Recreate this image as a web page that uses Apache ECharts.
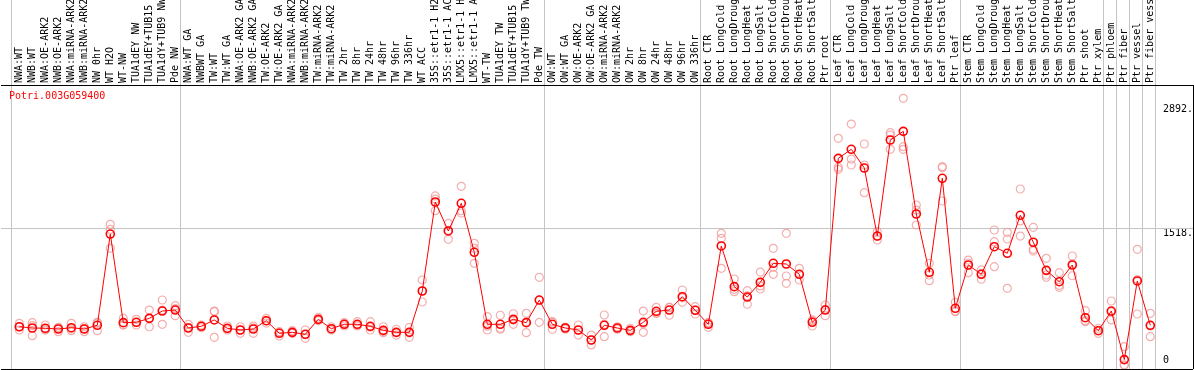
<!DOCTYPE html>
<html>
<head>
<meta charset="utf-8">
<script src="https://cdn.jsdelivr.net/npm/echarts@6/dist/echarts.min.js"></script>
<style>
html,body{margin:0;padding:0;background:#fff;}
#chart{width:1194px;height:370px;}
</style>
</head>
<body>
<div id="chart"></div>
<script>
const geneName = 'Potri.003G059400';

const categories = [
  'NWA:WT','NWB:WT','NWA:OE-ARK2','NWB:OE-ARK2','NWA:miRNA-ARK2','NWB:miRNA-ARK2','NW 0hr','WT H2O','WT-NW',
  'TUA1dEY NW','TUA1dEY+TUB15 NW','TUA1dY+TUB9 NW','Pde NW',
  'NWA:WT GA','NWBWT GA','TW:WT','TW:WT GA','NWA:OE-ARK2 GA','NWB:OE-ARK2 GA','TW:OE-ARK2','TW:OE-ARK2 GA',
  'NWA:miRNA-ARK2 GA','NWB:miRNA-ARK2 GA','TW:miRNA-ARK2','TW:miRNA-ARK2 GA',
  'TW 2hr','TW 8hr','TW 24hr','TW 48hr','TW 96hr','TW 336hr','WT ACC',
  '35S::etr1-1 H2O','35S::etr1-1 ACC','LMX5::etr1-1 H2O','LMX5::etr1-1 ACC',
  'WT-TW','TUA1dEY TW','TUA1dEY+TUB15 TW','TUA1dY+TUB9 TW','Pde TW',
  'OW:WT','OW:WT GA','OW:OE-ARK2','OW:OE-ARK2 GA','OW:miRNA-ARK2','OW:miRNA-ARK2 GA',
  'OW 2hr','OW 8hr','OW 24hr','OW 48hr','OW 96hr','OW 336hr',
  'Root CTR','Root LongCold','Root LongDrought','Root LongHeat','Root LongSalt',
  'Root ShortCold','Root ShortDrought','Root ShortHeat','Root ShortSalt','Ptr root',
  'Leaf CTR','Leaf LongCold','Leaf LongDrought','Leaf LongHeat','Leaf LongSalt',
  'Leaf ShortCold','Leaf ShortDrought','Leaf ShortHeat','Leaf ShortSalt','Ptr leaf',
  'Stem CTR','Stem LongCold','Stem LongDrought','Stem LongHeat','Stem LongSalt',
  'Stem ShortCold','Stem ShortDrought','Stem ShortHeat','Stem ShortSalt',
  'Ptr shoot','Ptr xylem','Ptr phloem','Ptr fiber','Ptr vessel','Ptr fiber vessel'
];

const meanValues = [
  424,410,407,399,413,399,440,1451,469,473,517,598,609,
  410,429,499,407,388,399,491,351,362,340,506,402,
  451,451,429,384,362,362,820,1806,1485,1792,1249,
  451,451,506,469,720,
  451,410,388,277,440,410,384,473,595,609,757,606,
  451,1319,868,753,916,1127,1119,1005,473,609,
  2290,2390,2183,1429,2493,2589,1673,1027,2069,628,
  1108,1005,1311,1238,1659,1360,1049,923,1108,
  524,380,598,60,931,440
];

const replicateValues = [
  [462,388,423],[469,325,437],[443,388,390],[418,369,410],[462,380,399],[424,369,403],[473,380,465],
  [1559,1293,1502],[517,443,445],[506,443,470],[609,424,519],[720,609,451],[657,546,625],
  [451,362,417],[443,413,430],[598,591,307],[432,388,399],[424,351,388],[432,351,413],[517,465,490],
  [369,321,363],[380,351,355],[388,296,337],[529,499,492],[424,388,394],
  [469,432,452],[480,432,441],[480,388,419],[424,358,371],[396,332,359],[418,307,362],[942,698,820],
  [1873,1839,1710],[1570,1393,1491],[1980,1710,1684],[1348,1293,1127],
  [535,388,430],[551,396,407],[568,451,500],[573,476,358],[972,473,716],
  [480,396,476],[418,396,417],[443,332,388],[332,222,277],[554,314,451],[424,396,410],
  [407,369,377],[598,362,458],[639,573,573],[639,551,638],[831,695,745],[646,565,607],
  [469,418,466],[1459,1404,1071],[953,812,838],[823,673,765],[1030,842,876],
  [1293,1005,1083],[1459,986,905],[1071,942,1002],[499,432,488],[665,546,617],
  [2512,2191,2168],[2670,2282,2216],[2449,2216,1909],[1477,1385,1426],[2574,2548,2390],
  [2955,2419,2390],[1773,1717,1551],[1127,997,934],[2197,2186,1817],[695,591,598],
  [1163,1130,1023],[1053,1012,950],[1496,1366,1089],[1470,1396,850],[1950,1596,1429],
  [1526,1282,1263],[1182,997,972],[1023,883,861],[1208,1119,989],
  [602,491,480],[407,351,383],[709,499,587],[203,0,0],[1282,565,945],[573,314,432]
];

// last category index of each sample group (-1 = before the first)
const groupEnds = [-1, 12, 40, 52, 62, 72, 83, 84, 85, 86, 87];

const yTickValues = [0, 1518, 2892];
const yTickLabels = ['0', '1518.', '2892.'];

// ---- layout ----
const W = 1194, H = 370;
const catStep = 13, firstCatX = 19.3;
const frameLeft = 1, frameRight = 1193, plotTop = 85, plotBottom = 369;
const zeroY = 365, pxPerUnit = 0.09025;
const xMin = (frameLeft - firstCatX) / catStep;
const xMax = (frameRight - firstCatX) / catStep;
const yMin = (zeroY - plotBottom) / pxPerUnit;
const yMax = zeroY / pxPerUnit;
const yPlotTop = (zeroY - plotTop) / pxPerUnit;
const sepOffset = 0.36;

const mono = 'DejaVu Sans Mono';
const labelMap = {};
yTickValues.forEach((v, i) => { labelMap[v] = yTickLabels[i]; });

const repData = [];
replicateValues.forEach((arr, k) => arr.forEach(v => repData.push([k, v])));
const meanData = meanValues.map((v, k) => [k, v]);

const gridLeft0 = firstCatX - catStep / 2;
const gridRight0 = W - gridLeft0 - catStep * categories.length;

const chart = echarts.init(document.getElementById('chart'), null, {renderer: 'canvas'});
chart.setOption({
  animation: false,
  backgroundColor: '#ffffff',
  title: {
    text: geneName, left: 9, top: 91, padding: 0,
    textStyle: {color: '#ff0000', fontFamily: mono, fontSize: 10, fontWeight: 'normal'}
  },
  grid: [
    {left: gridLeft0, right: gridRight0, top: plotTop, bottom: H - plotBottom, containLabel: false, outerBoundsMode: 'none'},
    {left: frameLeft, right: W - frameRight, top: 0, bottom: H - plotBottom, containLabel: false, outerBoundsMode: 'none'}
  ],
  xAxis: [
    {
      type: 'category', gridIndex: 0, position: 'top', data: categories, boundaryGap: true,
      axisLine: {show: false}, axisTick: {show: false}, splitLine: {show: false},
      axisLabel: {interval: 0, rotate: 90, margin: 2, color: '#000', fontFamily: mono, fontSize: 10}
    },
    {type: 'value', gridIndex: 1, min: xMin, max: xMax, show: false}
  ],
  yAxis: [
    {type: 'value', gridIndex: 0, show: false},
    {type: 'value', gridIndex: 1, min: yMin, max: yMax, show: false},
    {
      type: 'value', gridIndex: 1, min: yMin, max: yMax, position: 'right',
      axisLine: {show: false}, axisTick: {show: false}, splitLine: {show: false},
      axisLabel: {
        inside: true, margin: 30, align: 'left', verticalAlign: 'top',
        customValues: yTickValues.filter(v => v !== 0),
        formatter: v => labelMap[v] !== undefined ? labelMap[v] : '',
        color: '#000', fontFamily: mono, fontSize: 10
      }
    },
    {
      type: 'value', gridIndex: 1, min: yMin, max: yMax, position: 'right',
      axisLine: {show: false}, axisTick: {show: false}, splitLine: {show: false},
      axisLabel: {
        inside: true, margin: 30, align: 'left', verticalAlign: 'bottom',
        customValues: yTickValues.filter(v => v === 0),
        formatter: v => labelMap[v] !== undefined ? labelMap[v] : '',
        color: '#000', fontFamily: mono, fontSize: 10
      }
    }
  ],
  series: [
    {
      name: 'replicates', type: 'scatter', xAxisIndex: 1, yAxisIndex: 1, z: 3,
      data: repData, symbol: 'circle', symbolSize: 8,
      itemStyle: {color: 'rgba(0,0,0,0)', borderColor: '#f09a9a', borderWidth: 1.2},
      emphasis: {disabled: true}, silent: true,
      markLine: {
        silent: true, z: 1, symbol: ['none', 'none'], label: {show: false},
        lineStyle: {color: '#c4c4c4', width: 1, type: 'solid'},
        emphasis: {disabled: true},
        data: groupEnds.map(e => ({xAxis: e + sepOffset}))
          .concat([{yAxis: yTickValues[1]}])
      }
    },
    {
      name: geneName, type: 'line', xAxisIndex: 1, yAxisIndex: 1, z: 4,
      data: meanData, symbol: 'circle', symbolSize: 8, showSymbol: true,
      lineStyle: {color: '#ff0000', width: 1},
      itemStyle: {color: 'rgba(0,0,0,0)', borderColor: '#ff0000', borderWidth: 1.6},
      emphasis: {disabled: true}, silent: true,
      markLine: {
        silent: true, z: 6, symbol: ['none', 'none'], label: {show: false},
        lineStyle: {color: '#000', width: 1, type: 'solid'},
        emphasis: {disabled: true},
        data: [
          {yAxis: yPlotTop},
          {yAxis: yMin},
          {xAxis: xMin},
          [{coord: [xMax, yPlotTop]}, {coord: [xMax, yMin]}]
        ]
      }
    }
  ]
});
</script>
</body>
</html>
